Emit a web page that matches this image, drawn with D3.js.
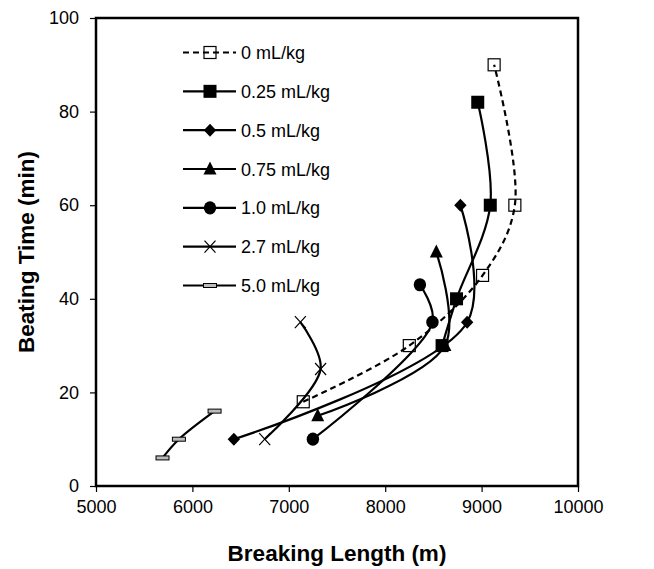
<!DOCTYPE html>
<html>
<head>
<meta charset="utf-8">
<script src="https://cdn.jsdelivr.net/npm/d3@7"></script>
<style>
  body { margin: 0; background: #fff; }
  text { font-family: "Liberation Sans", Arial, sans-serif; }
</style>
</head>
<body>
<div class="board"></div>
<script>
// dose series
const doses = ["0 mL/kg", "0.25 mL/kg", "0.5 mL/kg", "0.75 mL/kg", "1.0 mL/kg", "2.7 mL/kg", "5.0 mL/kg"]
const breakingLength = [
    [7150, 8250, 9010, 9345, 9130],
    [8590, 8740, 9090, 8960],
    [6430, 8850, 8780],
    [7300, 8620, 8530],
    [7250, 8490, 8360],
    [6750, 7330, 7120],
    [5690, 5860, 6230]
]
const beatingTime = [
    [18, 30, 45, 60, 90],
    [30, 40, 60, 82],
    [10, 35, 60],
    [15, 30, 50],
    [10, 35, 43],
    [10, 25, 35],
    [6, 10, 16]
]
const markers = ["openSquare", "square", "diamond", "triangle", "circle", "cross", "bar"]
const xTicks = [5000, 6000, 7000, 8000, 9000, 10000]
const yTicks = [0, 20, 40, 60, 80, 100]

const W = 654, H = 569
const margin = { top: 18, right: 76, bottom: 83, left: 96 }

const svg = d3.select(".board")
    .append("svg")
    .attr("width", W)
    .attr("height", H)

const x = d3.scaleLinear()
    .domain([5000, 10000])
    .range([margin.left, W - margin.right])

const y = d3.scaleLinear()
    .domain([0, 100])
    .range([H - margin.bottom, margin.top])

// axes
svg.append("g")
    .attr("transform", `translate(0, ${H - margin.bottom})`)
    .call(d3.axisBottom(x).tickValues(xTicks).tickSize(6).tickPadding(8).tickFormat(d3.format("d")))
svg.append("g")
    .attr("transform", `translate(${margin.left}, 0)`)
    .call(d3.axisLeft(y).tickValues(yTicks).tickSize(6).tickPadding(11))

svg.selectAll(".domain").remove()
svg.selectAll(".tick line").attr("stroke", "#000").attr("stroke-width", 1.2)
svg.selectAll(".tick text")
    .attr("fill", "#000")
    .style("font-size", "18px")
    .style("font-family", "Liberation Sans, Arial, sans-serif")

// plot frame
svg.append("rect")
    .attr("x", margin.left)
    .attr("y", margin.top)
    .attr("width", W - margin.left - margin.right)
    .attr("height", H - margin.top - margin.bottom)
    .attr("fill", "none")
    .attr("stroke", "#000")
    .attr("stroke-width", 2.5)

svg.append("text")
    .attr("x", (margin.left + W - margin.right) / 2)
    .attr("y", 561)
    .attr("text-anchor", "middle")
    .style("font-size", "22.5px")
    .style("font-weight", "bold")
    .text("Breaking Length (m)")

svg.append("text")
    .attr("transform", `translate(34, ${(margin.top + H - margin.bottom) / 2}) rotate(-90)`)
    .attr("text-anchor", "middle")
    .style("font-size", "22.5px")
    .style("font-weight", "bold")
    .text("Beating Time (min)")

function drawMarker(g, type) {
    if (type == "openSquare") {
        g.append("rect").attr("x", -6).attr("y", -6).attr("width", 12).attr("height", 12)
            .attr("fill", "none").attr("stroke", "#000").attr("stroke-width", 1.2)
    } else if (type == "square") {
        g.append("rect").attr("x", -6.5).attr("y", -6.5).attr("width", 13).attr("height", 13)
            .attr("fill", "#000")
    } else if (type == "diamond") {
        g.append("path").attr("d", "M0,-6.5L6.2,0L0,6.5L-6.2,0Z").attr("fill", "#000")
    } else if (type == "triangle") {
        g.append("path").attr("d", "M0,-7.5L6.5,5.5L-6.5,5.5Z").attr("fill", "#000")
    } else if (type == "circle") {
        g.append("ellipse").attr("rx", 6.2).attr("ry", 6.6).attr("fill", "#000")
    } else if (type == "cross") {
        g.append("path").attr("d", "M-5.5,-6L5.5,6M-5.5,6L5.5,-6")
            .attr("stroke", "#000").attr("stroke-width", 1.2).attr("fill", "none")
    } else if (type == "bar") {
        g.append("rect").attr("x", -6.5).attr("y", -2).attr("width", 13).attr("height", 4)
            .attr("fill", "#bbb").attr("stroke", "#000").attr("stroke-width", 1)
    }
}

const line = d3.line()
    .curve(d3.curveCatmullRom.alpha(0.5))
    .x(d => x(d[0]))
    .y(d => y(d[1]))

doses.forEach((dose, i) => {
    const pts = breakingLength[i].map((v, j) => [v, beatingTime[i][j]])
    svg.append("path")
        .datum(pts)
        .attr("fill", "none")
        .attr("stroke", "#000")
        .attr("stroke-width", 2.2)
        .attr("stroke-dasharray", i == 0 ? "6,4" : null)
        .attr("d", line)

    pts.forEach(p => {
        const g = svg.append("g").attr("transform", `translate(${x(p[0])}, ${y(p[1])})`)
        drawMarker(g, markers[i])
    })
})

// legend
const legendY = d3.scaleLinear().domain([0, 6]).range([52.5, 285.5])
doses.forEach((dose, i) => {
    const ly = legendY(i)
    svg.append("line")
        .attr("x1", 183).attr("x2", 236)
        .attr("y1", ly).attr("y2", ly)
        .attr("stroke", "#000")
        .attr("stroke-width", 2.2)
        .attr("stroke-dasharray", i == 0 ? "6,4" : null)
    const g = svg.append("g").attr("transform", `translate(210, ${ly})`)
    drawMarker(g, markers[i])
    svg.append("text")
        .attr("x", 241)
        .attr("y", ly + 6.5)
        .style("font-size", "18px")
        .text(dose)
})
</script>
</body>
</html>
